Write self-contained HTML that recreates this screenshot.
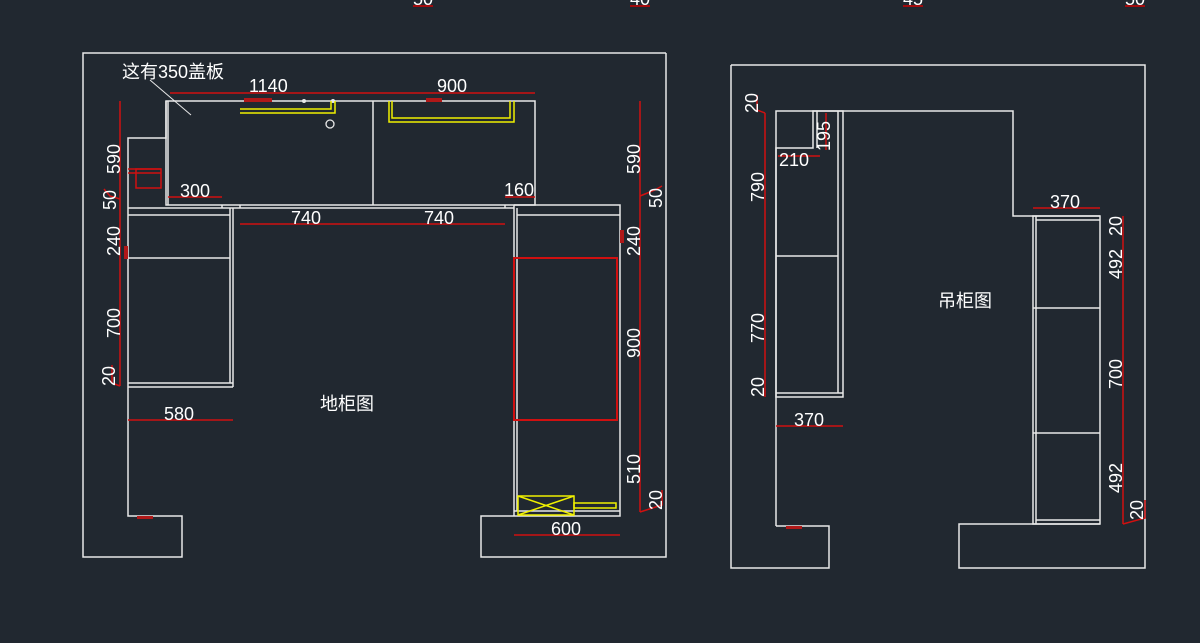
<!DOCTYPE html>
<html><head><meta charset="utf-8"><style>
html,body{margin:0;padding:0;background:#212830;}
svg{display:block}
text{font-family:"Liberation Sans","Noto Sans CJK SC",sans-serif;fill:#fff;font-size:18px}
</style></head><body>
<svg width="1200" height="643" viewBox="0 0 1200 643" xmlns="http://www.w3.org/2000/svg">
<rect width="1200" height="643" fill="#212830"/>
<g font-size="16">
<text x="413" y="5">50</text><text x="630" y="5">40</text><text x="903" y="5">45</text><text x="1125" y="5">50</text>
</g>
<g stroke="#c00" stroke-width="1.5"><line x1="413" y1="6" x2="433" y2="6"/><line x1="630" y1="6" x2="650" y2="6"/><line x1="903" y1="6" x2="923" y2="6"/><line x1="1125" y1="6" x2="1145" y2="6"/></g>

<g fill="none" stroke="#e8e8e8" stroke-width="1.5">
<polyline points="666,53 83,53 83,557 182,557 182,516 128,516 128,138 166,138 166,101"/>
<polyline points="666,53 666,557 481,557 481,516 620,516 620,205 514,205"/>
<rect x="166" y="101" width="369" height="104"/>
<line x1="168" y1="101" x2="168" y2="205"/>
<line x1="373" y1="101" x2="373" y2="205"/>
<line x1="166" y1="208" x2="514" y2="208"/>
<line x1="222" y1="205" x2="222" y2="208"/>
<line x1="240" y1="205" x2="240" y2="208"/>
<line x1="505" y1="205" x2="505" y2="208"/>
<line x1="128" y1="208" x2="166" y2="208"/>
<line x1="128" y1="215" x2="230" y2="215"/>
<line x1="128" y1="258" x2="230" y2="258"/>
<line x1="230" y1="208" x2="230" y2="383"/>
<line x1="233" y1="208" x2="233" y2="387"/>
<line x1="128" y1="383" x2="233" y2="383"/>
<line x1="128" y1="387" x2="233" y2="387"/>
<line x1="514" y1="205" x2="514" y2="516"/>
<line x1="517" y1="208" x2="517" y2="511"/>
<line x1="517" y1="215" x2="620" y2="215"/>
<line x1="517" y1="420" x2="617" y2="420"/>
<line x1="514" y1="511" x2="620" y2="511"/>

<polyline points="776,526 776,148 813,148 813,111 1013,111 1013,216 1100,216"/>
<polyline points="731,65 1145,65 1145,568 959,568 959,524 1100,524"/>
<polyline points="731,65 731,568 829,568 829,526 776,526"/>
<rect x="776" y="111" width="67" height="286"/>
<line x1="838" y1="111" x2="838" y2="393"/>
<line x1="776" y1="393" x2="843" y2="393"/>
<line x1="776" y1="256" x2="838" y2="256"/>
<line x1="817" y1="111" x2="817" y2="148"/>
<rect x="1033" y="216" width="67" height="308"/>
<line x1="1036" y1="216" x2="1036" y2="524"/>
<line x1="1036" y1="220" x2="1100" y2="220"/>
<line x1="1036" y1="520" x2="1100" y2="520"/>
<line x1="1033" y1="308" x2="1100" y2="308"/>
<line x1="1033" y1="433" x2="1100" y2="433"/>
</g>

<line x1="150" y1="80" x2="191" y2="115" stroke="#e8e8e8" stroke-width="1"/>
<circle cx="330" cy="124" r="4" fill="none" stroke="#e8e8e8" stroke-width="1.3"/>
<circle cx="304" cy="101" r="2" fill="#e8e8e8"/><circle cx="333" cy="101" r="2" fill="#e8e8e8"/>

<g fill="none" stroke="#f0f000" stroke-width="1.5">
<polyline points="240,109 331,109 331,101"/><polyline points="240,113 335,113 335,101"/>
<polyline points="389,101 389,122 514,122 514,101"/><polyline points="392,101 392,118 510,118 510,101"/>
<rect x="518" y="496" width="56" height="19"/>
<line x1="518" y1="496" x2="574" y2="515"/><line x1="518" y1="515" x2="574" y2="496"/>
<rect x="574" y="503" width="42" height="5"/>
</g>

<g fill="none" stroke="#d01010" stroke-width="1.5">
<rect x="514" y="258" width="103" height="162" stroke-width="2"/>
<rect x="136" y="169" width="25" height="19"/><line x1="128" y1="169" x2="161" y2="169"/><line x1="128" y1="173" x2="161" y2="173"/>
<line x1="170" y1="93" x2="373" y2="93"/><line x1="373" y1="93" x2="535" y2="93"/>
<line x1="168" y1="197" x2="222" y2="197"/><line x1="505" y1="197" x2="535" y2="197"/>
<line x1="240" y1="224" x2="373" y2="224"/><line x1="373" y1="224" x2="505" y2="224"/>
<line x1="120" y1="101" x2="120" y2="386"/>
<line x1="640" y1="101" x2="640" y2="512"/>
<line x1="128" y1="420" x2="233" y2="420"/>
<line x1="514" y1="535" x2="620" y2="535"/>
<polyline points="104,189 110,196 120,199"/><polyline points="662,186 655,190 640,196"/>
<polyline points="112,365 112,383 120,386"/><polyline points="662,490 662,505 640,512"/>
<line x1="765" y1="113" x2="765" y2="397"/><polyline points="757,95 757,110 765,113"/>
<line x1="826" y1="113" x2="826" y2="150"/>
<line x1="778" y1="156" x2="820" y2="156"/>
<line x1="776" y1="426" x2="843" y2="426"/>
<line x1="1033" y1="208" x2="1100" y2="208"/>
<line x1="1123" y1="216" x2="1123" y2="524"/><polyline points="1145,500 1145,518 1123,524"/>
</g>
<g fill="#b01818">
<rect x="244" y="98" width="28" height="4"/><rect x="426" y="98" width="16" height="4"/>
<rect x="137" y="516" width="16" height="3"/><rect x="786" y="526" width="16" height="3"/>
<rect x="124" y="246" width="4" height="13"/><rect x="620" y="230" width="4" height="13"/>
</g>

<text x="122" y="78">这有350盖板</text>
<text x="249" y="92">1140</text>
<text x="437" y="92">900</text>
<text x="180" y="197">300</text>
<text x="504" y="196">160</text>
<text x="291" y="224">740</text>
<text x="424" y="224">740</text>
<text x="164" y="420">580</text>
<text x="551" y="535">600</text>
<text x="320" y="410" font-size="21">地柜图</text>
<text x="938" y="307" font-size="21">吊柜图</text>
<text x="779" y="166">210</text>
<text x="794" y="426">370</text>
<text x="1050" y="208">370</text>
<g>
<text transform="translate(120,174) rotate(-90)">590</text>
<text transform="translate(116,210) rotate(-90)">50</text>
<text transform="translate(120,256) rotate(-90)">240</text>
<text transform="translate(120,338) rotate(-90)">700</text>
<text transform="translate(115,386) rotate(-90)">20</text>
<text transform="translate(640,174) rotate(-90)">590</text>
<text transform="translate(662,208) rotate(-90)">50</text>
<text transform="translate(640,256) rotate(-90)">240</text>
<text transform="translate(640,358) rotate(-90)">900</text>
<text transform="translate(640,484) rotate(-90)">510</text>
<text transform="translate(662,510) rotate(-90)">20</text>
<text transform="translate(758,113) rotate(-90)">20</text>
<text transform="translate(764,202) rotate(-90)">790</text>
<text transform="translate(764,343) rotate(-90)">770</text>
<text transform="translate(764,397) rotate(-90)">20</text>
<text transform="translate(830,151) rotate(-90)">195</text>
<text transform="translate(1122,236) rotate(-90)">20</text>
<text transform="translate(1122,279) rotate(-90)">492</text>
<text transform="translate(1122,389) rotate(-90)">700</text>
<text transform="translate(1122,493) rotate(-90)">492</text>
<text transform="translate(1143,520) rotate(-90)">20</text>
</g>
</svg>
</body></html>
